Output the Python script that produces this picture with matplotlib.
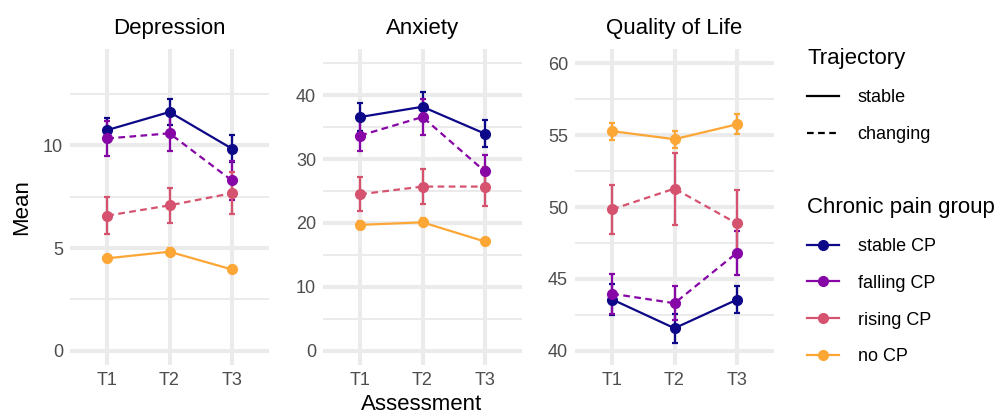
import numpy as np
import matplotlib.pyplot as plt
from matplotlib.lines import Line2D

plt.rcParams['font.family'] = ['Liberation Sans', 'DejaVu Sans']

# data (mean, error half-width)
times = ['T1', 'T2', 'T3']
groups = ['stable CP', 'falling CP', 'rising CP', 'no CP']
trajectory = ['stable', 'changing', 'changing', 'stable']
panels = ['Depression', 'Anxiety', 'Quality of Life']

dep_mean = [[10.75, 11.63, 9.85], [10.34, 10.59, 8.30], [6.58, 7.08, 7.67], [4.50, 4.82, 3.96]]
dep_err = [[0.60, 0.65, 0.65], [0.85, 0.87, 0.95], [0.90, 0.85, 1.03], [0.18, 0.18, 0.18]]
anx_mean = [[36.6, 38.2, 34.0], [33.7, 36.6, 28.1], [24.5, 25.7, 25.7], [19.7, 20.1, 17.1]]
anx_err = [[2.2, 2.3, 2.1], [2.5, 2.8, 2.5], [2.7, 2.7, 3.1], [0.6, 0.6, 0.5]]
qol_mean = [[43.56, 41.56, 43.54], [43.96, 43.30, 46.80], [49.84, 51.28, 48.86], [55.28, 54.72, 55.75]]
qol_err = [[1.07, 1.00, 0.95], [1.40, 1.20, 1.50], [1.70, 2.50, 2.30], [0.60, 0.60, 0.70]]

limits = [(0, 14), (0, 45), (40, 60)]
major_ticks = [[0, 5, 10], [0, 10, 20, 30, 40], [40, 45, 50, 55, 60]]
minor_ticks = [[2.5, 7.5, 12.5], [5, 15, 25, 35, 45], [42.5, 47.5, 52.5, 57.5]]

cmap = plt.get_cmap('plasma')
colors = [cmap(v) for v in [0.0, 0.27, 0.54, 0.8]]
styles = {'stable': '-', 'changing': (0, (3, 2))}

W, H = 1000, 416
fig = plt.figure(figsize=(W / 100, H / 100), dpi=100)

lefts = [70, 323, 575]
means = [dep_mean, anx_mean, qol_mean]
errs = [dep_err, anx_err, qol_err]
x = np.arange(1, 4)

for i, name in enumerate(panels):
    ax = fig.add_axes([lefts[i] / W, 1 - 365 / H, 199 / W, 316 / H])
    for g in range(len(groups)):
        ax.errorbar(x, means[i][g], yerr=errs[i][g], color=colors[g], lw=1.6,
                    ls=styles[trajectory[g]], marker='o', ms=7,
                    capsize=2.5, capthick=1.6, elinewidth=1.6)
    lo, hi = limits[i]
    r = hi - lo
    ax.set_xlim(0.4, 3.6)
    ax.set_ylim(lo - 0.05 * r, hi + 0.05 * r)
    ax.set_xticks(x)
    ax.set_xticklabels(times)
    ax.set_yticks(major_ticks[i])
    ax.set_yticks(minor_ticks[i], minor=True)
    ax.grid(which='major', color='#EBEBEB', lw=2.9)
    ax.grid(which='minor', axis='y', color='#EBEBEB', lw=1.4)
    ax.set_axisbelow(True)
    for s in ax.spines.values():
        s.set_visible(False)
    ax.tick_params(which='both', length=0, labelsize=13, colors='#4D4D4D', pad=5)
    ax.set_title(name, fontsize=16, pad=11)

fig.text(22 / W, 1 - 207 / H, 'Mean', rotation=90, ha='center', va='center', fontsize=16)
fig.text(422 / W, 1 - 405 / H, 'Assessment', ha='center', va='center', fontsize=16)

traj_handles = [Line2D([], [], color='black', lw=1.6, ls=styles['stable']),
                Line2D([], [], color='black', lw=1.6, ls=styles['changing'])]
fig.legend(traj_handles, ['stable', 'changing'], title='Trajectory',
           loc='upper left', bbox_to_anchor=(798 / W, 1 - 39 / H),
           frameon=False, fontsize=13, title_fontsize=16, alignment='left',
           handlelength=1.75, handletextpad=1.05, labelspacing=1.12, borderpad=0)

grp_handles = [Line2D([], [], color=c, lw=1.6, marker='o', ms=7) for c in colors]
fig.legend(grp_handles, groups, title='Chronic pain group',
           loc='upper left', bbox_to_anchor=(798 / W, 1 - 188 / H),
           frameon=False, fontsize=13, title_fontsize=16, alignment='left',
           handlelength=1.75, handletextpad=1.05, labelspacing=1.1, borderpad=0)

fig.savefig('out.png', dpi=100)
